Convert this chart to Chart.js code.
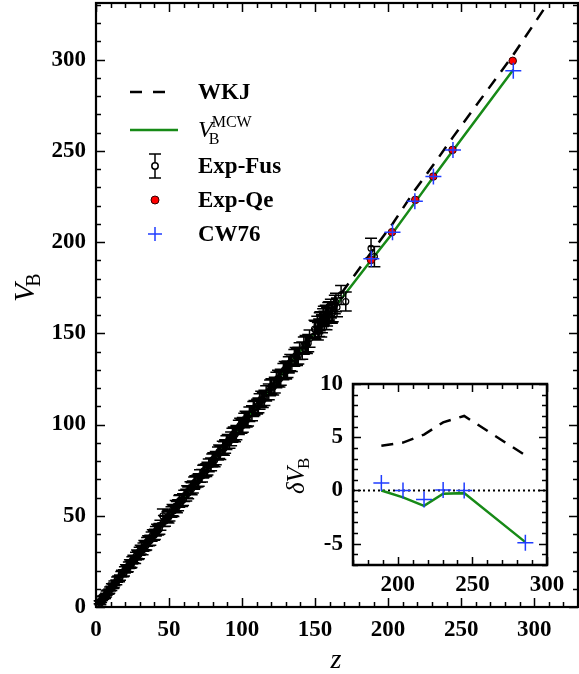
<!DOCTYPE html>
<html><head><meta charset="utf-8">
<script src="https://cdn.jsdelivr.net/npm/chart.js@4.4.1/dist/chart.umd.min.js"></script>
<style>
html,body{margin:0;padding:0;background:#fff;}
#wrap{position:relative;width:579px;height:674px;overflow:hidden;}
#main{position:absolute;left:0;top:0;}
#inset{position:absolute;left:280px;top:370px;}
</style></head><body>
<div id="wrap"><canvas id="main" width="579" height="674"></canvas><canvas id="inset" width="290" height="230"></canvas></div>
<script>
// ---------- DATA ----------
const fusZ = [2.5,3.5,4.8,5.6,6.9,7.8,8.6,9.7,10.5,11.8,12.6,13.9,15.2,16.4,17.3,18.6,19.8,21.2,22.5,23.7,24.9,26.2,27.4,28.8,29.9,31.3,32.5,33.8,35.0,36.4,38.1,39.7,41.0,42.6,44.1,45.8,47.2,48.9,50.3,51.7,53.0,54.6,56.2,57.5,58.9,60.4,61.8,63.1,64.7,66.3,68.0,69.5,71.2,72.6,74.1,75.5,77.2,78.8,80.3,82.0,83.5,85.1,86.8,88.4,90.2,92.5,94.3,96.1,97.8,99.6,101.5,103.2,105.0,106.8,108.5,110.3,112.0,114.2,116.5,118.3,120.1,122.4,124.6,126.5,128.3,130.2,132.0,134.1,135.8,137.6,139.4,141.2,143.5,145.3,150.2,151.5,152.8,153.6,154.7,155.5,156.4,157.3,158.2,159.6,160.8,162.1,163.5,165.0,167.8,171.0,188.3,190.6,
  3.0,4.2,6.2,7.3,9.1,10.9,12.2,14.5,15.8,17.8,19.2,20.5,21.8,23.2,24.3,25.6,26.8,28.1,29.4,30.6,31.9,33.1,34.4,35.7,37.2,38.9,40.3,41.8,43.4,46.5,49.6,52.4,55.4,57.0,59.6,62.4,65.5,67.2,70.3,73.4,76.3,79.6,81.2,84.3,87.6,89.3,91.4,93.4,95.2,98.7,100.5,102.4,104.1,107.7,111.2,113.1,115.3,119.2,121.3,123.5,125.6,129.2,131.1,133.0,136.7,138.5,142.3,144.4,146.2,149.6,151.9,153.2,154.2,156.0,157.8,159.0,161.5,164.3];
const fusV = [2.6,3.2,5.1,5.4,6.5,8.3,8.1,9.9,10.2,11.3,13.0,13.5,15.6,16.1,17.9,18.2,20.3,20.8,22.9,23.1,25.6,25.8,27.9,28.2,30.6,31.0,32.8,33.3,35.7,36.0,38.6,39.2,41.5,42.1,44.8,49.9,47.0,49.5,50.0,52.1,52.6,55.3,55.8,58.4,58.2,60.9,61.3,62.5,65.4,65.8,68.6,69.1,71.8,71.9,74.7,75.0,77.6,78.1,80.9,81.6,84.1,84.5,87.2,87.9,90.8,92.1,94.9,95.6,98.4,99.1,102.2,102.7,105.6,106.2,109.1,109.8,112.6,113.5,117.1,117.9,120.8,121.6,125.3,125.9,129.0,129.4,132.7,133.6,136.5,137.0,140.2,140.5,144.1,144.6,151.8,154.6,153.0,156.9,155.2,158.6,157.1,160.4,159.0,162.3,163.5,161.4,165.8,164.2,171.0,167.4,196.6,192.0,
  2.2,4.6,5.8,7.6,8.7,11.4,11.8,15.0,15.3,18.5,18.7,21.3,21.2,23.9,23.6,26.3,26.1,28.9,28.8,31.4,31.2,33.9,33.8,36.4,36.6,39.6,39.8,42.5,42.8,47.1,49.0,53.1,54.7,57.9,58.8,63.1,64.8,67.9,69.6,74.2,75.8,80.3,80.4,85.1,86.9,90.1,90.8,94.1,94.5,99.6,99.8,103.3,103.2,108.5,110.5,114.0,114.6,120.1,120.5,124.4,124.9,130.1,130.3,133.9,137.6,137.7,143.2,143.6,147.1,152.3,151.1,156.3,152.9,159.8,156.9,161.9,160.6,166.9];
const fusErr = [0.8,0.8,0.9,0.9,1.0,1.0,1.1,1.1,1.2,1.2,1.3,1.3,1.4,1.5,1.5,1.6,1.7,1.8,1.8,1.9,2.0,2.0,2.1,2.2,2.2,2.3,2.3,2.4,2.4,2.5,2.5,2.6,2.6,2.7,2.7,3.8,2.8,2.8,2.9,2.9,3.0,3.0,3.0,3.1,3.1,3.1,3.2,3.2,3.2,3.3,3.3,3.3,3.4,3.4,3.4,3.5,3.5,3.5,3.6,3.6,3.6,3.7,3.7,3.7,3.8,3.8,3.8,3.9,3.9,3.9,4.0,4.0,4.0,4.1,4.1,4.1,4.2,4.2,4.2,4.3,4.3,4.3,4.4,4.4,4.4,4.5,4.5,4.5,4.6,4.6,4.6,4.7,4.7,4.7,4.8,4.8,4.8,4.9,4.9,4.9,5.0,5.0,5.0,5.0,5.1,5.1,5.1,5.1,5.2,5.2,5.5,5.5,
  0.9,1.0,1.1,1.1,1.2,1.3,1.3,1.4,1.5,1.6,1.7,1.8,1.9,2.0,2.0,2.1,2.2,2.3,2.3,2.4,2.5,2.5,2.6,2.6,2.7,2.7,2.8,2.8,2.9,3.0,3.0,3.1,3.1,3.2,3.2,3.3,3.3,3.4,3.4,3.5,3.5,3.6,3.6,3.7,3.7,3.8,3.8,3.8,3.9,3.9,4.0,4.0,4.0,4.1,4.1,4.2,4.2,4.3,4.3,4.3,4.4,4.4,4.5,4.5,4.6,4.6,4.7,4.7,4.7,4.8,4.8,4.9,4.9,5.0,5.0,5.0,5.1,5.1];
const qeZ = [188.3,202.6,218.6,230.9,244.1,285.3];
const qeV = [190.2,205.4,223.1,235.9,250.5,299.3];
const cwZ = [188.5,203.0,218.3,231.0,244.4,285.7];
const cwV = [190.9,205.4,222.3,235.9,250.5,293.9];
const mcwZ = [1.5,20,40,60,80,100,120,140,160,170,188.5,203.0,218.3,231.0,244.4,285.7];
const mcwV = [1.5,20,40,60,80,100,120.5,140.5,161,171,190.2,204.8,221.6,235.6,250.2,294.4];
const wkjZ = [168,188.5,203.0,218.3,231.0,244.4,285.7,312];
const wkjV = [172,194.4,209.9,228.4,242.3,257.5,302.6,334];
// inset: deviations
const inZ = [189,203.5,217.6,230.4,244.5,285.5];
const inWkj = [4.2,4.5,5.25,6.4,7.0,3.3];
const inMcw = [0,-0.65,-1.45,-0.3,-0.25,-4.85];
const inCw = [0.7,0.0,-0.85,0.05,0.0,-4.9];
const zeroZ = [170,300];
const zeroV = [0,0];
// tick labels
const mainXTicks = [0,50,100,150,200,250,300];
const mainYTicks = [0,50,100,150,200,250,300];
const inXTicks = [200,250,300];
const inYTicks = [-5,0,5,10];

// ---------- helpers ----------
const pts = (xs, ys) => xs.map((x,i)=>({x:x, y:ys[i]}));
const SERIF = '"Liberation Serif","Times New Roman",serif';
const GREEN = '#178a17';
const BLUE = '#1f3cff';
const noPad = s => { s.paddingTop = 0; s.paddingBottom = 0; s.paddingLeft = 0; s.paddingRight = 0; };

function frameTicks(chart, cfg){
  const ctx = chart.ctx, a = chart.chartArea;
  const sx = chart.scales.x, sy = chart.scales.y;
  ctx.save();
  ctx.strokeStyle = '#000';
  ctx.lineWidth = cfg.tickW;
  ctx.beginPath();
  for (let i=0; ; i++){
    const v = cfg.xMin + i*cfg.xStep; if (v > cfg.xMax + 1e-9) break;
    const maj = Math.abs(v/cfg.xMajor - Math.round(v/cfg.xMajor)) < 1e-6;
    const L = maj ? cfg.majLen : cfg.minLen;
    const x = Math.round(sx.getPixelForValue(v)) + 0.5;
    ctx.moveTo(x, a.bottom); ctx.lineTo(x, a.bottom - L);
    ctx.moveTo(x, a.top); ctx.lineTo(x, a.top + L);
  }
  for (let i=0; ; i++){
    const v = cfg.yMin + i*cfg.yStep; if (v > cfg.yMax + 1e-9) break;
    const maj = Math.abs(v/cfg.yMajor - Math.round(v/cfg.yMajor)) < 1e-6;
    const L = maj ? cfg.majLen : cfg.minLen;
    const y = Math.round(sy.getPixelForValue(v)) + 0.5;
    ctx.moveTo(a.left, y); ctx.lineTo(a.left + L, y);
    ctx.moveTo(a.right, y); ctx.lineTo(a.right - L, y);
  }
  ctx.stroke();
  ctx.lineWidth = cfg.frameW;
  ctx.strokeRect(a.left, a.top, a.right - a.left, a.bottom - a.top);
  ctx.restore();
}

// error bars for Exp-Fus
const errorBars = {
  id: 'errorBars',
  beforeDatasetDraw(chart, args){
    const ds = chart.data.datasets[args.index];
    if (!ds.errors) return;
    const ctx = chart.ctx, sx = chart.scales.x, sy = chart.scales.y;
    ctx.save();
    ctx.strokeStyle = '#000'; ctx.lineWidth = 1.5;
    ctx.beginPath();
    ds.data.forEach((p,i)=>{
      const x = sx.getPixelForValue(p.x);
      const y1 = sy.getPixelForValue(p.y - ds.errors[i]);
      const y2 = sy.getPixelForValue(p.y + ds.errors[i]);
      ctx.moveTo(x, y1); ctx.lineTo(x, y2);
      ctx.moveTo(x-6, y1); ctx.lineTo(x+6, y1);
      ctx.moveTo(x-6, y2); ctx.lineTo(x+6, y2);
    });
    ctx.stroke();
    ctx.restore();
  }
};

function subText(ctx, x, y, parts){
  let cx = x;
  parts.forEach(p=>{
    ctx.font = p.font;
    ctx.fillText(p.t, cx, y + (p.dy||0));
    cx += ctx.measureText(p.t).width + (p.gap||0);
  });
  return cx;
}

const mainDecor = {
  id: 'mainDecor',
  afterDraw(chart){
    frameTicks(chart, {xMin:0,xMax:330,xStep:10,xMajor:50,yMin:0,yMax:330,yStep:10,yMajor:50,majLen:9,minLen:5,tickW:1.5,frameW:2.2});
    const ctx = chart.ctx;
    ctx.save();
    ctx.fillStyle = '#000';
    ctx.textBaseline = 'alphabetic';
    ctx.font = 'italic 28px ' + SERIF;
    ctx.textAlign = 'center';
    ctx.fillText('z', 336, 668);
    ctx.textAlign = 'left';
    ctx.save();
    ctx.translate(34, 302);
    ctx.rotate(-Math.PI/2);
    subText(ctx, 0, 0, [{t:'V', font:'italic 30px '+SERIF, gap:-3},{t:'B', font:'20px '+SERIF, dy:6}]);
    ctx.restore();
    // legend
    const lx0 = 130, tx = 198;
    const rows = [92, 130, 166, 200, 234];
    ctx.lineWidth = 2.5;
    ctx.strokeStyle = '#000';
    ctx.setLineDash([12,11]);
    ctx.beginPath(); ctx.moveTo(lx0, rows[0]); ctx.lineTo(lx0+36, rows[0]); ctx.stroke();
    ctx.setLineDash([]);
    ctx.strokeStyle = GREEN;
    ctx.beginPath(); ctx.moveTo(lx0, rows[1]); ctx.lineTo(lx0+48, rows[1]); ctx.stroke();
    const mx = 155;
    ctx.strokeStyle = '#000'; ctx.lineWidth = 1.5;
    ctx.beginPath();
    ctx.moveTo(mx, rows[2]-12); ctx.lineTo(mx, rows[2]-3.5);
    ctx.moveTo(mx, rows[2]+3.5); ctx.lineTo(mx, rows[2]+12);
    ctx.moveTo(mx-6, rows[2]-12); ctx.lineTo(mx+6, rows[2]-12);
    ctx.moveTo(mx-6, rows[2]+12); ctx.lineTo(mx+6, rows[2]+12);
    ctx.stroke();
    ctx.beginPath(); ctx.arc(mx, rows[2], 3.2, 0, Math.PI*2); ctx.stroke();
    ctx.fillStyle = '#ff0000'; ctx.strokeStyle = '#300'; ctx.lineWidth = 1;
    ctx.beginPath(); ctx.arc(mx, rows[3], 4, 0, Math.PI*2); ctx.fill(); ctx.stroke();
    ctx.strokeStyle = BLUE; ctx.lineWidth = 1.5;
    ctx.beginPath();
    ctx.moveTo(mx-7, rows[4]); ctx.lineTo(mx+7, rows[4]);
    ctx.moveTo(mx, rows[4]-7); ctx.lineTo(mx, rows[4]+7);
    ctx.stroke();
    ctx.fillStyle = '#000';
    ctx.textBaseline = 'middle';
    ctx.font = 'bold 23px ' + SERIF;
    ctx.fillText('WKJ', tx, rows[0]+1);
    ctx.fillText('Exp-Fus', tx, rows[2]+1);
    ctx.fillText('Exp-Qe', tx, rows[3]+1);
    ctx.fillText('CW76', tx, rows[4]+1);
    ctx.textBaseline = 'alphabetic';
    ctx.font = 'italic 24px ' + SERIF;
    ctx.fillText('V', tx, rows[1]+7);
    const vw = ctx.measureText('V').width;
    ctx.font = '16px ' + SERIF;
    ctx.fillText('B', tx + vw - 4, rows[1]+14);
    ctx.fillText('MCW', tx + vw - 1, rows[1]-3);
    ctx.restore();
  }
};

const tickFont = {family: SERIF, size: 23, weight: 'bold'};

new Chart(document.getElementById('main'), {
  type: 'scatter',
  data: {
    datasets: [
      {label:'CW76', data: pts(cwZ, cwV), pointStyle:'cross', pointRadius:8, pointBorderColor:BLUE, pointBorderWidth:1.5, showLine:false, order:0},
      {label:'Exp-Qe', data: pts(qeZ, qeV), pointStyle:'circle', pointRadius:3.8, pointBackgroundColor:'#ff0000', pointBorderColor:'#300', pointBorderWidth:1, showLine:false, order:1},
      {label:'Exp-Fus', data: pts(fusZ, fusV), errors: fusErr, pointStyle:'circle', pointRadius:3, pointBackgroundColor:'rgba(0,0,0,0)', pointBorderColor:'#000', pointBorderWidth:1.2, showLine:false, order:2},
      {label:'MCW', data: pts(mcwZ, mcwV), showLine:true, borderColor:GREEN, borderWidth:2.5, pointRadius:0, order:3},
      {label:'WKJ', data: pts(wkjZ, wkjV), showLine:true, borderColor:'#000', borderWidth:2.5, borderDash:[12,9], pointRadius:0, order:4}
    ]
  },
  options: {
    responsive:false, animation:false, devicePixelRatio:1,
    layout: {autoPadding:false, padding: {top:3, right:1, left:0, bottom:0}},
    plugins: {legend:{display:false}, tooltip:{enabled:false}},
    scales: {
      x: {type:'linear', min:0, max:330,
          afterBuildTicks: s => { s.ticks = mainXTicks.map(v=>({value:v})); },
          afterFit: s => { s.height = 67; noPad(s); },
          grid:{display:false, drawTicks:false}, border:{display:false},
          ticks:{font:tickFont, color:'#000', padding:9, maxRotation:0}},
      y: {type:'linear', min:0, max:331,
          afterBuildTicks: s => { s.ticks = mainYTicks.map(v=>({value:v})); },
          afterFit: s => { s.width = 96; noPad(s); },
          grid:{display:false, drawTicks:false}, border:{display:false},
          ticks:{font:tickFont, color:'#000', padding:10}}
    }
  },
  plugins: [errorBars, mainDecor]
});

const insetDecor = {
  id:'insetDecor',
  afterDraw(chart){
    frameTicks(chart, {xMin:170,xMax:300,xStep:10,xMajor:50,yMin:-7,yMax:10,yStep:1,yMajor:5,majLen:8,minLen:5,tickW:1.5,frameW:2.5});
    const ctx = chart.ctx;
    ctx.save();
    ctx.fillStyle = '#000';
    ctx.translate(24, 124);
    ctx.rotate(-Math.PI/2);
    subText(ctx, 0, 0, [{t:'δV', font:'italic 25px '+SERIF, gap:-2},{t:'B', font:'17px '+SERIF, dy:5}]);
    ctx.restore();
  }
};

new Chart(document.getElementById('inset'), {
  type: 'scatter',
  data: {
    datasets: [
      {label:'CW76', data: pts(inZ, inCw), pointStyle:'cross', pointRadius:8, pointBorderColor:BLUE, pointBorderWidth:1.5, showLine:false, order:0},
      {label:'MCW', data: pts(inZ, inMcw), showLine:true, borderColor:GREEN, borderWidth:2.5, pointRadius:0, order:1},
      {label:'WKJ', data: pts(inZ, inWkj), showLine:true, borderColor:'#000', borderWidth:2.5, borderDash:[12,9], pointRadius:0, order:2},
      {label:'zero', data: pts(zeroZ, zeroV), showLine:true, borderColor:'#000', borderWidth:2, borderDash:[2,3], pointRadius:0, order:3}
    ]
  },
  options: {
    responsive:false, animation:false, devicePixelRatio:1,
    layout: {autoPadding:false, padding: {top:14, right:23, left:0, bottom:0}},
    plugins: {legend:{display:false}, tooltip:{enabled:false}},
    scales: {
      x: {type:'linear', min:170, max:300,
          afterBuildTicks: s => { s.ticks = inXTicks.map(v=>({value:v})); },
          afterFit: s => { s.height = 35; noPad(s); },
          grid:{display:false, drawTicks:false}, border:{display:false},
          ticks:{font:tickFont, color:'#000', padding:6, maxRotation:0}},
      y: {type:'linear', min:-7, max:10,
          afterBuildTicks: s => { s.ticks = inYTicks.map(v=>({value:v})); },
          afterFit: s => { s.width = 73; noPad(s); },
          grid:{display:false, drawTicks:false}, border:{display:false},
          ticks:{font:tickFont, color:'#000', padding:10}}
    }
  },
  plugins: [insetDecor]
});
</script>
</body></html>
